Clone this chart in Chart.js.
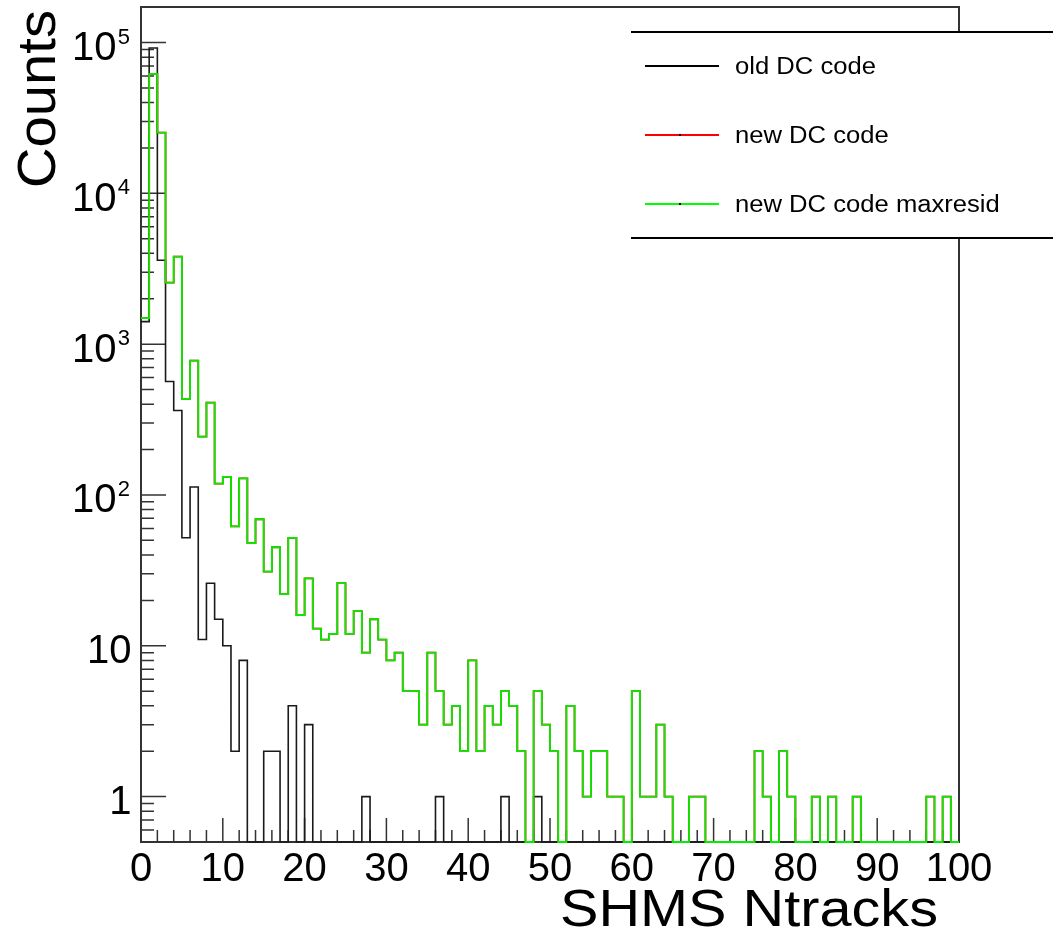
<!DOCTYPE html>
<html>
<head>
<meta charset="utf-8">
<script src="https://cdn.jsdelivr.net/npm/chart.js@4.4.1/dist/chart.umd.min.js"></script>
<style>
  html, body { margin: 0; padding: 0; background: #fff; }
  canvas { display: block; }
</style>
</head>
<body>
<canvas id="ntracks" width="1053" height="939"></canvas>
<script>
// bin edges 0..100, width 1 (bin i covers [i, i+1))
const binEdges = Array.from({ length: 101 }, (_, i) => i);

// counts per bin (0 = empty bin)
const oldCounts = [
  1410, 92000, 3600, 565, 363, 52, 113, 11, 26, 15,
  10, 2, 8, 0, 0, 2, 2, 0, 4, 0,
  3, 0, 0, 0, 0, 0, 0, 1, 0, 0,
  0, 0, 0, 0, 0, 0, 1, 0, 0, 0,
  0, 0, 0, 0, 1, 0, 0, 0, 1, 0,
  0, 0, 0, 0, 0, 0, 0, 0, 0, 0,
  0, 0, 0, 0, 0, 0, 0, 0, 0, 0,
  0, 0, 0, 0, 0, 0, 0, 0, 0, 0,
  0, 0, 0, 0, 0, 0, 0, 0, 0, 0,
  0, 0, 0, 0, 0, 0, 0, 0, 0, 0,
];

const maxresidCounts = [
  1490, 62000, 25300, 2560, 3810, 434, 777, 244, 410, 119,
  132, 62, 129, 48, 69, 31, 45, 22, 52, 16,
  28, 13, 11, 12, 26, 12, 17, 9, 15, 11,
  8, 9, 5, 5, 3, 9, 5, 3, 4, 2,
  8, 2, 4, 3, 5, 4, 2, 0, 5, 3,
  2, 0, 4, 2, 1, 2, 2, 1, 1, 0,
  5, 1, 1, 3, 1, 0, 0, 1, 1, 0,
  0, 0, 0, 0, 0, 2, 1, 0, 2, 1,
  0, 0, 1, 0, 1, 0, 0, 1, 0, 0,
  0, 0, 0, 0, 0, 0, 1, 0, 1, 0,
];

// red histogram is hidden under the green one in the picture
const newCounts = maxresidCounts.slice();

const xTickLabels = ['0', '10', '20', '30', '40', '50', '60', '70', '80', '90', '100'];
const yDecades = [0, 1, 2, 3, 4, 5];

const Y_MIN = 0.5;
const Y_MAX = 1.72e5;
const FONT = '"Liberation Sans", Arial, Helvetica, sans-serif';

// histogram -> step points at bin edges, empty bins sit on the frame
function toSteps(counts) {
  const pts = counts.map((c, i) => ({ x: binEdges[i], y: c > 0 ? c : Y_MIN }));
  pts.push({ x: binEdges[counts.length], y: pts[pts.length - 1].y });
  return pts;
}

function histDataset(label, counts, color, width, order) {
  return {
    label,
    data: toSteps(counts),
    borderColor: color,
    borderWidth: width,
    stepped: 'before',
    pointRadius: 0,
    fill: false,
    clip: false,
    order,
  };
}

const legendItems = [
  { text: 'old DC code', color: '#000000' },
  { text: 'new DC code', color: '#ff0000' },
  { text: 'new DC code maxresid', color: '#00ff00' },
];

function stretchedText(ctx, text, x, y, targetWidth) {
  const w = ctx.measureText(text).width;
  ctx.save();
  ctx.translate(x, y);
  ctx.scale(targetWidth / w, 1);
  ctx.fillText(text, 0, 0);
  ctx.restore();
}

const rootFrame = {
  id: 'rootFrame',
  beforeDatasetsDraw(chart) {
    const { ctx, chartArea: a, scales: { x, y } } = chart;
    ctx.save();
    ctx.strokeStyle = '#333';
    ctx.lineWidth = 2;
    ctx.strokeRect(a.left, a.top, a.right - a.left, a.bottom - a.top);

    ctx.lineWidth = 1.5;
    ctx.beginPath();
    for (let v = 0; v <= 100; v += 2) {
      const px = x.getPixelForValue(v);
      const len = v % 10 === 0 ? 24 : 12;
      ctx.moveTo(px, a.bottom);
      ctx.lineTo(px, a.bottom - len);
    }
    for (let e = -1; e <= 5; e++) {
      for (let k = 1; k <= 9; k++) {
        const v = k * Math.pow(10, e);
        if (v < Y_MIN || v > Y_MAX) continue;
        const py = y.getPixelForValue(v);
        const len = k === 1 ? 25 : 13;
        ctx.moveTo(a.left, py);
        ctx.lineTo(a.left + len, py);
      }
    }
    ctx.stroke();
    ctx.restore();
  },
  afterDraw(chart) {
    const { ctx, chartArea: a, scales: { x, y } } = chart;
    ctx.save();
    ctx.fillStyle = '#000';

    // x tick labels
    ctx.font = '40px ' + FONT;
    ctx.textAlign = 'center';
    ctx.textBaseline = 'alphabetic';
    xTickLabels.forEach(lbl => {
      ctx.fillText(lbl, x.getPixelForValue(Number(lbl)), 881);
    });

    // y tick labels, 10^n with superscript
    yDecades.forEach(n => {
      const py = y.getPixelForValue(Math.pow(10, n));
      ctx.textAlign = 'right';
      ctx.font = '40px ' + FONT;
      if (n === 0) {
        ctx.fillText('1', 131.5, py + 17.5);
      } else if (n === 1) {
        ctx.fillText('10', 131.5, py + 17.5);
      } else {
        ctx.fillText('10', 116.5, py + 17.5);
        ctx.font = '22px ' + FONT;
        ctx.fillText(String(n), 130, py + 1);
      }
    });

    // axis titles
    ctx.font = '52px ' + FONT;
    ctx.textAlign = 'left';
    stretchedText(ctx, 'SHMS Ntracks', 560, 926, 378);

    ctx.save();
    ctx.translate(55, 188);
    ctx.rotate(-Math.PI / 2);
    ctx.font = '54px ' + FONT;
    stretchedText(ctx, 'Counts', 0, 0, 178);
    ctx.restore();

    // legend box
    const boxL = 631, boxT = 32, boxB = 238;
    ctx.fillStyle = '#fff';
    ctx.fillRect(boxL, boxT, chart.width - boxL, boxB - boxT);
    ctx.strokeStyle = '#000';
    ctx.lineWidth = 2;
    ctx.beginPath();
    ctx.moveTo(boxL, boxT);
    ctx.lineTo(chart.width, boxT);
    ctx.moveTo(boxL, boxB);
    ctx.lineTo(chart.width, boxB);
    ctx.stroke();

    const rowY = [66, 135, 204];
    ctx.font = '23.5px ' + FONT;
    ctx.textAlign = 'left';
    legendItems.forEach((item, i) => {
      ctx.strokeStyle = item.color;
      ctx.lineWidth = 2;
      ctx.beginPath();
      ctx.moveTo(645, rowY[i]);
      ctx.lineTo(719, rowY[i]);
      ctx.stroke();
      ctx.fillStyle = '#000';
      ctx.fillRect(679, rowY[i] - 1, 2, 2);
      const w = ctx.measureText(item.text).width;
      stretchedText(ctx, item.text, 735, rowY[i] + 8, w * 1.09);
    });
    ctx.restore();
  },
};

new Chart(document.getElementById('ntracks'), {
  type: 'line',
  data: {
    datasets: [
      histDataset('new DC code maxresid', maxresidCounts, '#00ee00', 1.8, 0),
      histDataset('new DC code', newCounts, '#ff0000', 1.8, 1),
      histDataset('old DC code', oldCounts, '#1a1a1a', 1.6, 2),
    ],
  },
  options: {
    responsive: false,
    animation: false,
    layout: { padding: { left: 141, top: 7, right: 94, bottom: 97 } },
    plugins: {
      legend: { display: false },
      tooltip: { enabled: false },
    },
    scales: {
      x: { type: 'linear', min: 0, max: 100, display: false },
      y: { type: 'logarithmic', min: Y_MIN, max: Y_MAX, display: false },
    },
  },
  plugins: [rootFrame],
});
</script>
</body>
</html>
